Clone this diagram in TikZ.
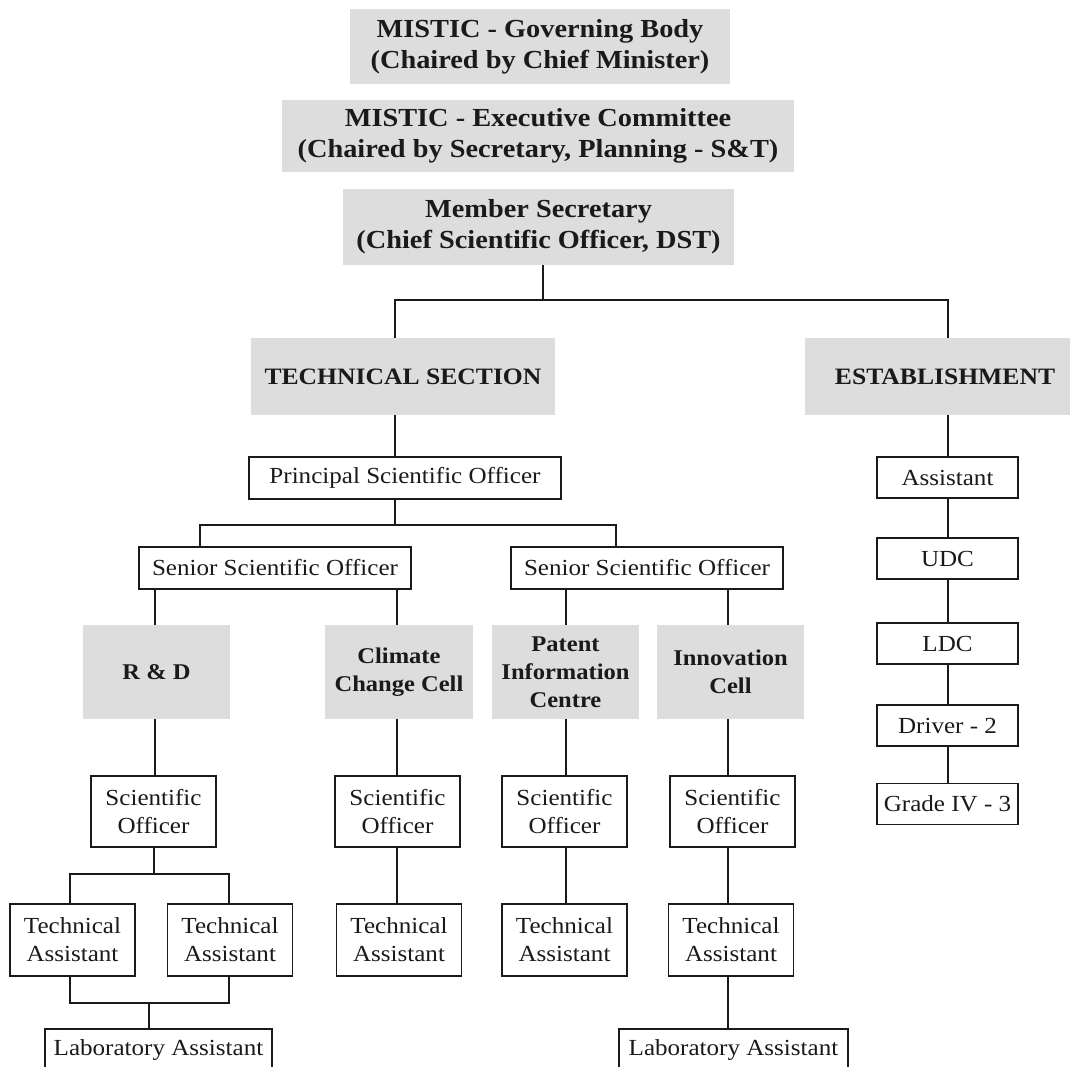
\documentclass[tikz,border=0pt]{standalone}
\usepackage{fontspec}
\setmainfont{Liberation Serif}[FakeStretch=1.09]
\definecolor{boxgray}{HTML}{DDDDDD}
\definecolor{ink}{HTML}{1A1A1A}
\begin{document}
\begin{tikzpicture}[x=1pt,y=-1pt,
  gbox/.style={fill=boxgray, draw=none, inner sep=0pt, align=center, text=ink},
  wbox/.style={draw=ink, line width=1.8pt, fill=white, inner sep=0pt, align=center, text=ink},
  topf/.style={font=\bfseries\fontsize{26}{31}\selectfont},
  secf/.style={font=\bfseries\fontsize{23.5}{28}\selectfont},
  cellf/.style={font=\bfseries\fontsize{22.5}{28}\selectfont},
  regf/.style={font=\fontsize{23}{28}\selectfont},
  conn/.style={draw=ink, line width=1.4pt},
  sobox/.style={wbox, regf, minimum width=125pt, minimum height=71pt},
  tabox/.style={wbox, regf, minimum width=125pt, minimum height=72pt},
  cellbox/.style={gbox, cellf, minimum width=147pt, minimum height=94pt},
  estbox/.style={wbox, regf, minimum width=141pt, minimum height=41pt},
]
\useasboundingbox (0,0) rectangle (1070,1067);
\fill[white] (0,0) rectangle (1070,1067);
\clip (0,0) rectangle (1070,1067);

% top
\node[gbox, topf, minimum width=380pt, minimum height=75pt] (gb) at (540,46.5) {MISTIC - Governing Body\\(Chaired by Chief Minister)};
\node[gbox, topf, minimum width=512pt, minimum height=72pt] (ec) at (538,136) {MISTIC - Executive Committee\\(Chaired by Secretary, Planning - S\&T)};
\node[gbox, topf, minimum width=391pt, minimum height=76pt] (ms) at (538.5,227) {Member Secretary\\(Chief Scientific Officer, DST)};

% sections
\node[gbox, secf, minimum width=304pt, minimum height=77pt] (tech) at (403,376.5) {TECHNICAL SECTION};
\node[gbox, secf, minimum width=280pt, minimum height=77pt] (est) at (945,376.5) {ESTABLISHMENT};

% technical
\node[wbox, regf, minimum width=312pt, minimum height=42pt] (pso) at (405,478) {Principal Scientific Officer};
\node[wbox, regf, minimum width=272pt, minimum height=42pt] (sso1) at (275,568) {Senior Scientific Officer};
\node[wbox, regf, minimum width=272pt, minimum height=42pt] (sso2) at (647,568) {Senior Scientific Officer};

\node[cellbox] (rd) at (156.5,672) {R \& D};
\node[cellbox, minimum width=148pt] (ccc) at (399,672) {Climate\\Change Cell};
\node[cellbox] (pic) at (565.5,672) {Patent\\Information\\Centre};
\node[cellbox] (ic) at (730.5,672) {Innovation\\Cell};

\node[sobox] (so1) at (153.5,811.5) {Scientific\\Officer};
\node[sobox] (so2) at (397.5,811.5) {Scientific\\Officer};
\node[sobox] (so3) at (564.5,811.5) {Scientific\\Officer};
\node[sobox] (so4) at (732.5,811.5) {Scientific\\Officer};

\node[tabox] (ta1) at (72.5,940) {Technical\\Assistant};
\node[tabox] (ta2) at (230,940) {Technical\\Assistant};
\node[tabox] (ta3) at (399,940) {Technical\\Assistant};
\node[tabox] (ta4) at (564.5,940) {Technical\\Assistant};
\node[tabox] (ta5) at (731,940) {Technical\\Assistant};

\node[wbox, regf, minimum width=227pt, minimum height=42pt] (la1) at (158.5,1050) {Laboratory Assistant};
\node[wbox, regf, minimum width=229pt, minimum height=42pt] (la2) at (733.5,1050) {Laboratory Assistant};

% establishment
\node[estbox] (asst) at (947.5,477.5) {Assistant};
\node[estbox] (udc) at (947.5,558.5) {UDC};
\node[estbox] (ldc) at (947.5,643.5) {LDC};
\node[estbox] (drv) at (947.5,725.5) {Driver - 2};
\node[estbox] (grd) at (947.5,804) {Grade IV - 3};

% junctions and columns
\coordinate (jM) at (543,300);
\coordinate (jT) at (395,300);
\coordinate (jE) at (948,300);
\coordinate (jP) at (395,525);
\coordinate (jL) at (200,525);
\coordinate (jR) at (616,525);
\coordinate (c1) at (155,0);
\coordinate (c2) at (397,0);
\coordinate (c3) at (566,0);
\coordinate (c4) at (728,0);
\coordinate (ce) at (948,0);
\coordinate (jA) at (154,874);
\coordinate (a1) at (70,874);
\coordinate (a2) at (229,874);
\coordinate (b1) at (70,1003);
\coordinate (b2) at (229,1003);
\coordinate (jB) at (149,1003);

% connectors
\draw[conn] (ms.south -| jM) -- (jM);
\draw[conn] (tech.north -| jT) -- (jT) -- (jE) -- (est.north -| jE);
\draw[conn] (tech.south -| jT) -- (pso.north -| jT);
\draw[conn] (pso.south -| jP) -- (jP);
\draw[conn] (sso1.north -| jL) -- (jL) -- (jR) -- (sso2.north -| jR);

\draw[conn] (sso1.south -| c1) -- (rd.north -| c1);
\draw[conn] (sso1.south -| c2) -- (ccc.north -| c2);
\draw[conn] (sso2.south -| c3) -- (pic.north -| c3);
\draw[conn] (sso2.south -| c4) -- (ic.north -| c4);

\draw[conn] (rd.south -| c1) -- (so1.north -| c1);
\draw[conn] (ccc.south -| c2) -- (so2.north -| c2);
\draw[conn] (pic.south -| c3) -- (so3.north -| c3);
\draw[conn] (ic.south -| c4) -- (so4.north -| c4);

\draw[conn] (so1.south -| jA) -- (jA);
\draw[conn] (ta1.north -| a1) -- (a1) -- (a2) -- (ta2.north -| a2);
\draw[conn] (ta1.south -| b1) -- (b1) -- (b2) -- (ta2.south -| b2);
\draw[conn] (jB) -- (la1.north -| jB);

\draw[conn] (so2.south -| c2) -- (ta3.north -| c2);
\draw[conn] (so3.south -| c3) -- (ta4.north -| c3);
\draw[conn] (so4.south -| c4) -- (ta5.north -| c4);
\draw[conn] (ta5.south -| c4) -- (la2.north -| c4);

\draw[conn] (est.south -| ce) -- (asst.north -| ce);
\draw[conn] (asst.south -| ce) -- (udc.north -| ce);
\draw[conn] (udc.south -| ce) -- (ldc.north -| ce);
\draw[conn] (ldc.south -| ce) -- (drv.north -| ce);
\draw[conn] (drv.south -| ce) -- (grd.north -| ce);
\end{tikzpicture}
\end{document}
